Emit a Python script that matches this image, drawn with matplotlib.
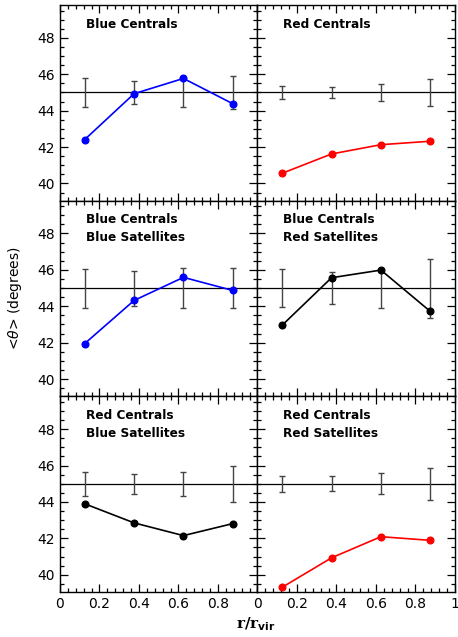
import numpy as np
import matplotlib
matplotlib.use("Agg")
import matplotlib.pyplot as plt
from matplotlib.ticker import MultipleLocator

# posicoes radiais (r/r_vir) dos bins
r_bins = [0.125, 0.375, 0.625, 0.875]

# titulos dos paineis (linha, coluna)
titulos = [
    ["Blue Centrals", "Red Centrals"],
    ["Blue Centrals\nBlue Satellites", "Blue Centrals\nRed Satellites"],
    ["Red Centrals\nBlue Satellites", "Red Centrals\nRed Satellites"],
]

# <theta> medido em cada painel
theta_bc = [42.41, 44.93, 45.77, 44.38]
theta_rc = [40.56, 41.62, 42.13, 42.32]
theta_bc_bs = [41.95, 44.32, 45.59, 44.87]
theta_bc_rs = [42.96, 45.57, 45.99, 43.72]
theta_rc_bs = [43.90, 42.85, 42.15, 42.81]
theta_rc_rs = [39.31, 40.93, 42.09, 41.89]

# meia-largura das barras de erro em torno de 45 graus (distribuicao aleatoria)
err_bc = [0.80, 0.62, 0.82, 0.90]
err_rc = [0.37, 0.31, 0.48, 0.73]
err_bc_bs = [1.07, 0.96, 1.09, 1.12]
err_bc_rs = [1.06, 0.90, 1.07, 1.62]
err_rc_bs = [0.67, 0.55, 0.65, 0.98]
err_rc_rs = [0.45, 0.40, 0.58, 0.89]

cores = [["blue", "red"], ["blue", "black"], ["black", "red"]]
valores = [[theta_bc, theta_rc], [theta_bc_bs, theta_bc_rs], [theta_rc_bs, theta_rc_rs]]
erros = [[err_bc, err_rc], [err_bc_bs, err_bc_rs], [err_rc_bs, err_rc_rs]]

theta_aleatorio = 45.0

fig, axes = plt.subplots(3, 2, figsize=(4.58, 6.37), dpi=100, sharex=False, sharey=True)
fig.subplots_adjust(left=0.131, right=0.9934, top=0.992, bottom=0.0706, hspace=0, wspace=0)

for i in range(3):
    for j in range(2):
        ax = axes[i, j]
        ax.axhline(theta_aleatorio, color="black", lw=0.9, zorder=1)
        ax.errorbar(r_bins, [theta_aleatorio] * 4, yerr=erros[i][j], fmt="none",
                    ecolor="#444444", elinewidth=1.0, capsize=2.2, capthick=1.0, zorder=2)
        ax.plot(r_bins, valores[i][j], "-o", color=cores[i][j], lw=1.2, ms=4.8, zorder=3)

        ax.set_xlim(0, 1)
        ax.set_ylim(39.05, 49.8)
        ax.xaxis.set_major_locator(MultipleLocator(0.2))
        ax.xaxis.set_minor_locator(MultipleLocator(0.04))
        ax.yaxis.set_major_locator(MultipleLocator(2))
        ax.yaxis.set_minor_locator(MultipleLocator(0.5))
        ax.tick_params(which="both", direction="in", top=True, right=True, labelsize=10)
        ax.tick_params(which="major", length=6, width=0.9)
        ax.tick_params(which="minor", length=3, width=0.9)
        for s in ax.spines.values():
            s.set_linewidth(1.0)

        ax.text(0.13, 0.935, titulos[i][j], transform=ax.transAxes, ha="left", va="top",
                fontsize=8.7, fontweight="bold", linespacing=1.45)

        if i < 2:
            ax.tick_params(labelbottom=False)
        else:
            if j == 0:
                ax.set_xticks([0, 0.2, 0.4, 0.6, 0.8])
                ax.set_xticklabels(["0", "0.2", "0.4", "0.6", "0.8"])
            else:
                ax.set_xticks([0, 0.2, 0.4, 0.6, 0.8, 1.0])
                ax.set_xticklabels(["0", "0.2", "0.4", "0.6", "0.8", "1"])
            ax.set_xlim(0, 1)
        if j == 1:
            ax.tick_params(labelleft=False)

fig.text(0.032, 0.5315, r"<$\theta$> (degrees)", rotation=90, ha="center", va="center", fontsize=10)
fig.text(0.558, 0.02, "r/r$_{\\mathbf{vir}}$", ha="center", va="center", fontsize=11,
         family="DejaVu Serif", fontweight="bold")

fig.savefig("out.png", dpi=100)
